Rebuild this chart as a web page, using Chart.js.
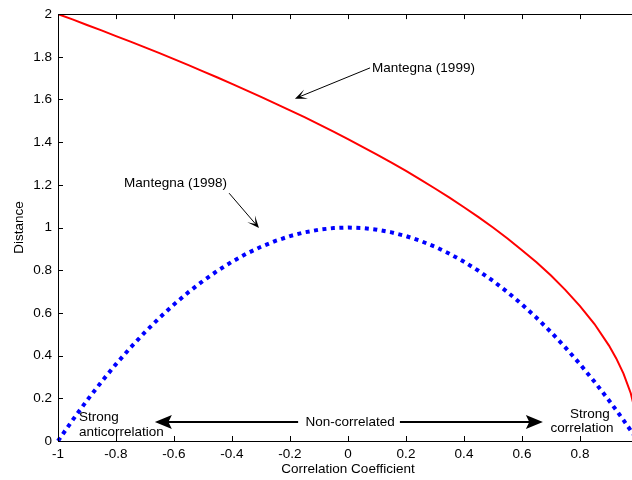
<!DOCTYPE html>
<html><head><meta charset="utf-8">
<script src="https://cdn.jsdelivr.net/npm/chart.js@4"></script>
<style>html,body{margin:0;padding:0;overflow:hidden;background:#fff}#wrap{width:640px;height:480px;position:relative}</style>
</head><body><div id="wrap"><canvas id="c"></canvas></div>
<script>
// Correlation coefficient (x) values
const rho = [-1,-0.95,-0.9,-0.85,-0.8,-0.75,-0.7,-0.65,-0.6,-0.55,-0.5,-0.45,-0.4,-0.35,-0.3,-0.25,-0.2,-0.15,-0.1,-0.05,
  0,0.05,0.1,0.15,0.2,0.25,0.3,0.35,0.4,0.45,0.5,0.55,0.6,0.65,0.7,0.75,0.8,0.85,0.9,0.925,0.95,0.975,0.99,1];
// Mantegna (1999) distance – red curve
const mantegna1999 = [2.000,1.975,1.949,1.924,1.897,1.871,1.844,1.817,1.789,1.761,1.732,1.703,1.673,1.643,1.612,1.581,1.549,1.517,1.483,1.449,
  1.414,1.378,1.342,1.304,1.265,1.225,1.183,1.140,1.095,1.049,1.000,0.949,0.894,0.837,0.775,0.707,0.632,0.548,0.447,0.387,0.316,0.224,0.141,0];
// Mantegna (1998) distance – blue dotted curve
const mantegna1998 = [0,0.0975,0.19,0.2775,0.36,0.4375,0.51,0.5775,0.64,0.6975,0.75,0.7975,0.84,0.8775,0.91,0.9375,0.96,0.9775,0.99,0.9975,
  1,0.9975,0.99,0.9775,0.96,0.9375,0.91,0.8775,0.84,0.7975,0.75,0.6975,0.64,0.5775,0.51,0.4375,0.36,0.2775,0.19,0.1444,0.0975,0.0494,0.0199,0];
const xTickValues = [-1,-0.8,-0.6,-0.4,-0.2,0,0.2,0.4,0.6,0.8,1];
const yTickValues = [0,0.2,0.4,0.6,0.8,1,1.2,1.4,1.6,1.8,2];
const xTitle = 'Correlation Coefficient';
const yTitle = 'Distance';
const seriesNames = ['Mantegna (1999)','Mantegna (1998)'];

const FONT = '"Liberation Sans", Arial, sans-serif';
const FS = 13.5;
Chart.defaults.color = '#000';
Chart.defaults.font.family = FONT;
Chart.defaults.font.size = FS;

// annotations in data coordinates
const notes = {
  texts: [
    {t: seriesNames[0], x: 0.083, y: 1.748, align: 'left'},
    {t: seriesNames[1], x: -0.772, y: 1.206, align: 'left'},
    {t: 'Non-correlated', x: 0.007, y: 0.0886, align: 'center'},
    {t: 'Strong', x: -0.928, y: 0.112, align: 'left'},
    {t: 'anticorrelation', x: -0.928, y: 0.042, align: 'left'},
    {t: 'Strong', x: 0.834, y: 0.126, align: 'center'},
    {t: 'correlation', x: 0.807, y: 0.061, align: 'center'}
  ],
  arrows: [
    {x1: 0.076, y1: 1.748, x2: -0.183, y2: 1.604, len: 12, hw: 5, notch: 0.45, lw: 1},
    {x1: -0.41, y1: 1.161, x2: -0.307, y2: 0.998, len: 12, hw: 5, notch: 0.45, lw: 1},
    {x1: -0.172, y1: 0.0886, x2: -0.666, y2: 0.0886, len: 17, hw: 7, notch: 0.8, lw: 2},
    {x1: 0.179, y1: 0.0886, x2: 0.672, y2: 0.0886, len: 17, hw: 7, notch: 0.8, lw: 2}
  ]
};

function drawArrow(ctx, x1, y1, x2, y2, len, hw, notch, lw) {
  const a = Math.atan2(y2 - y1, x2 - x1);
  const ca = Math.cos(a), sa = Math.sin(a);
  const nx = x2 - ca * len * notch, ny = y2 - sa * len * notch;
  ctx.save();
  ctx.strokeStyle = '#000'; ctx.fillStyle = '#000'; ctx.lineWidth = lw;
  ctx.beginPath(); ctx.moveTo(x1, y1); ctx.lineTo(nx + ca, ny + sa); ctx.stroke();
  const bx = x2 - ca * len, by = y2 - sa * len;
  ctx.beginPath();
  ctx.moveTo(x2, y2);
  ctx.lineTo(bx - sa * hw, by + ca * hw);
  ctx.lineTo(nx, ny);
  ctx.lineTo(bx + sa * hw, by - ca * hw);
  ctx.closePath(); ctx.fill();
  ctx.restore();
}

const framePlugin = {
  id: 'frame',
  afterDatasetsDraw(chart) {
    const {ctx, chartArea: ca, scales: {x, y}} = chart;
    ctx.save();
    ctx.strokeStyle = '#000'; ctx.lineWidth = 1;
    ctx.strokeRect(Math.round(ca.left) + 0.5, Math.round(ca.top) + 0.5, Math.round(ca.right - ca.left), Math.round(ca.bottom - ca.top));
    ctx.beginPath();
    x.ticks.forEach(t => {
      const px = Math.round(x.getPixelForValue(t.value)) + 0.5;
      ctx.moveTo(px, ca.bottom); ctx.lineTo(px, ca.bottom - 5);
      ctx.moveTo(px, ca.top); ctx.lineTo(px, ca.top + 5);
    });
    y.ticks.forEach(t => {
      const py = Math.round(y.getPixelForValue(t.value)) + 0.5;
      ctx.moveTo(ca.left, py); ctx.lineTo(ca.left + 5, py);
      ctx.moveTo(ca.right, py); ctx.lineTo(ca.right - 5, py);
    });
    ctx.stroke();
    // annotations
    ctx.font = FS + 'px ' + FONT;
    ctx.fillStyle = '#000';
    ctx.textBaseline = 'middle';
    notes.texts.forEach(n => {
      ctx.textAlign = n.align;
      ctx.fillText(n.t, x.getPixelForValue(n.x), y.getPixelForValue(n.y));
    });
    notes.arrows.forEach(a => {
      drawArrow(ctx, x.getPixelForValue(a.x1), y.getPixelForValue(a.y1), x.getPixelForValue(a.x2), y.getPixelForValue(a.y2), a.len, a.hw, a.notch, a.lw);
    });
    ctx.restore();
  }
};

new Chart(document.getElementById('c'), {
  type: 'scatter',
  data: {
    datasets: [
      {label: seriesNames[0], data: rho.map((r, i) => ({x: r, y: mantegna1999[i]})), showLine: true,
       borderColor: '#ff0000', borderWidth: 2, pointRadius: 0, tension: 0},
      {label: seriesNames[1], data: rho.map((r, i) => ({x: r, y: mantegna1998[i]})), showLine: true,
       borderColor: '#0000ff', borderWidth: 4, borderDash: [4, 4.5], borderCapStyle: 'butt', pointRadius: 0, tension: 0, clip: false}
    ]
  },
  options: {
    responsive: true, maintainAspectRatio: false, animation: false,
    layout: {padding: {top: 12, right: 2, left: 0, bottom: 0}},
    plugins: {legend: {display: false}, tooltip: {enabled: false}},
    scales: {
      x: {
        type: 'linear', min: -1, max: 1,
        afterBuildTicks: s => { s.ticks = xTickValues.map(v => ({value: v})); },
        afterFit: s => { s.height = 39; s.paddingRight = 0; s.paddingLeft = 0; },
        grid: {display: false, drawTicks: false}, border: {display: false},
        ticks: {padding: 5, maxRotation: 0, autoSkip: false, color: '#000',
          callback: v => (v === 1 ? '' : String(v))},
        title: {display: true, text: xTitle, color: '#000', padding: {top: 0, bottom: 3}, font: {size: FS}}
      },
      y: {
        type: 'linear', min: 0, max: 2,
        afterBuildTicks: s => { s.ticks = yTickValues.map(v => ({value: v})); },
        afterFit: s => { s.width = 58; },
        grid: {display: false, drawTicks: false}, border: {display: false},
        ticks: {padding: 6, autoSkip: false, color: '#000', callback: v => String(v)},
        title: {display: true, text: yTitle, color: '#000', padding: {top: 11, bottom: 0}, font: {size: FS}}
      }
    }
  },
  plugins: [framePlugin]
});
</script>
</body></html>
